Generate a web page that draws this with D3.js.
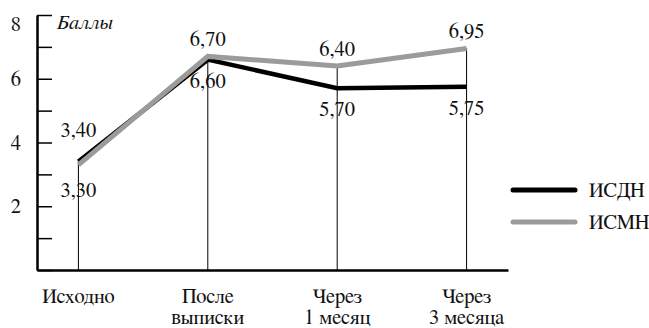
<!DOCTYPE html>
<html><head><meta charset="utf-8">
<script src="https://cdn.jsdelivr.net/npm/d3@7"></script>
<style>
body{margin:0;background:#fff;}
</style></head>
<body><svg id="c" width="649" height="328"></svg>
<script>
const categories = [["Исходно"], ["После", "выписки"], ["Через", "1 месяц"], ["Через", "3 месяца"]];
const seriesNames = ["ИСДН", "ИСМН"];
const isdn = [3.40, 6.60, 5.70, 5.75];
const ismn = [3.30, 6.70, 6.40, 6.95];
const yTicks = [0, 1, 2, 3, 4, 5, 6, 7, 8];
const yTickLabels = ["", "", "2", "", "4", "", "6", "", "8"];
const yTitle = "Баллы";
const colors = ["#000000", "#9b9b9b"];
const FONT = "FreeSerif, 'Liberation Serif', serif";
const FS = 20.5;

const svg = d3.select("#c").attr("font-family", FONT);
const x = d3.scalePoint().domain(d3.range(categories.length)).range([37, 508]).padding(0.32);
const y = d3.scaleLinear().domain([0, 8]).range([270, 15]);

// drop lines
svg.append("g").selectAll("line").data(d3.range(categories.length)).join("line")
  .attr("x1", i => x(i)).attr("x2", i => x(i))
  .attr("y1", i => y(Math.max(isdn[i], ismn[i]))).attr("y2", y(0))
  .attr("stroke", "#000").attr("stroke-width", 1);

// y axis
const ya = svg.append("g").attr("transform", "translate(37,0)")
  .call(d3.axisLeft(y).tickValues(yTicks).tickSizeInner(-15).tickSizeOuter(0).tickPadding(16)
    .tickFormat((d, i) => yTickLabels[i]));
ya.attr("font-family", FONT);
ya.select(".domain").attr("stroke-width", 2.5).attr("stroke", "#000");
ya.selectAll(".tick line").attr("stroke-width", 1.5).attr("stroke", "#000");
ya.selectAll(".tick text").attr("font-size", FS).attr("fill", "#111")
  .attr("dy", d => d === 8 ? "0.75em" : "0.32em");

// x axis
const xa = svg.append("g").attr("transform", `translate(0,${y(0)})`)
  .call(d3.axisBottom(x).tickSize(0).tickFormat(""));
xa.select(".domain").attr("stroke-width", 2.5).attr("stroke", "#000");
xa.selectAll(".tick text").remove();
const xl = svg.append("g").selectAll("text").data(categories).join("text")
  .attr("text-anchor", "middle").attr("font-size", FS).attr("fill", "#111")
  .attr("transform", (d, i) => `translate(${x(i)},303)`);
xl.selectAll("tspan").data(d => d).join("tspan")
  .attr("x", 0).attr("dy", (d, j) => j === 0 ? 0 : 21).text(d => d);

// y title
svg.append("text").attr("x", 57).attr("y", 29).attr("font-size", FS).attr("font-style", "italic")
  .attr("fill", "#111").text(yTitle);

// lines
const line = d3.line().x((d, i) => x(i)).y(d => y(d));
[isdn, ismn].forEach((s, k) => {
  svg.append("path").datum(s).attr("d", line).attr("fill", "none")
    .attr("stroke", colors[k]).attr("stroke-width", k === 0 ? 4.5 : 5)
    .attr("stroke-linejoin", "miter");
});

// value labels
const fmt = v => v.toFixed(2).replace(".", ",");
[isdn, ismn].forEach((s, k) => {
  const other = k === 0 ? ismn : isdn;
  svg.append("g").selectAll("text").data(s).join("text")
    .attr("text-anchor", "middle").attr("font-size", FS).attr("fill", "#111")
    .attr("x", (d, i) => x(i))
    .attr("y", (d, i) => {
      const above = d >= other[i];
      if (i === 0) return above ? y(d) - 25 : y(d) + 32;
      return above ? y(d) - 10 : y(d) + 28;
    })
    .text(d => fmt(d));
});

// legend
const lg = svg.append("g");
seriesNames.forEach((n, k) => {
  const ly = 190 + k * 32;
  lg.append("line").attr("x1", 513).attr("x2", 575).attr("y1", ly).attr("y2", ly)
    .attr("stroke", colors[k]).attr("stroke-width", 5).attr("stroke-linecap", "round");
  lg.append("text").attr("x", 589).attr("y", ly + 7).attr("font-size", FS).attr("fill", "#111").text(n);
});
</script></body></html>
